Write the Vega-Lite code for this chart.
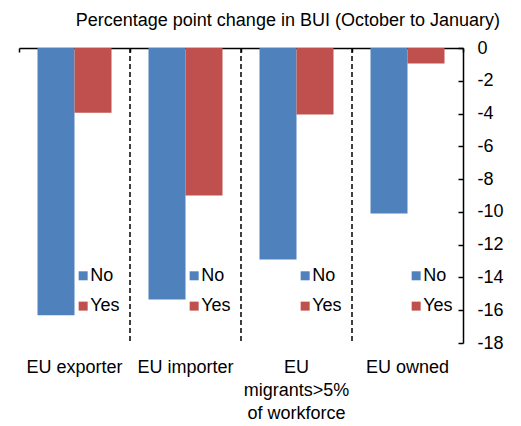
{
  "$schema": "https://vega.github.io/schema/vega-lite/v6.json",
  "autosize": {"type": "none"},
  "padding": {"left": 19, "top": 48, "right": 58, "bottom": 83},
  "width": 444,
  "height": 295,
  "background": "white",
  "config": {
    "font": "Liberation Sans",
    "view": {"stroke": null}
  },
  "title": {
    "text": "Percentage point change in BUI (October to January)",
    "fontSize": 18,
    "fontWeight": "normal",
    "color": "black",
    "anchor": "end",
    "frame": "group",
    "dx": 37,
    "offset": 9
  },
  "datasets": {
    "bars": [
      {"group": "EU exporter", "series": "No", "value": -16.3},
      {"group": "EU exporter", "series": "Yes", "value": -3.95},
      {"group": "EU importer", "series": "No", "value": -15.35},
      {"group": "EU importer", "series": "Yes", "value": -9.0},
      {"group": "EU migrants>5% of workforce", "series": "No", "value": -12.9},
      {"group": "EU migrants>5% of workforce", "series": "Yes", "value": -4.05},
      {"group": "EU owned", "series": "No", "value": -10.1},
      {"group": "EU owned", "series": "Yes", "value": -0.95}
    ],
    "separators": [
      {"group": "EU importer"},
      {"group": "EU migrants>5% of workforce"},
      {"group": "EU owned"}
    ]
  },
  "resolve": {"axis": {"x": "independent", "y": "independent"}},
  "layer": [
    {
      "data": {"name": "bars"},
      "mark": {"type": "bar"},
      "encoding": {
        "x": {
          "field": "group", "type": "nominal", "sort": null,
          "scale": {"paddingInner": 0, "paddingOuter": 0},
          "axis": {
            "orient": "bottom", "title": null, "domain": false, "ticks": false,
            "labelAngle": 0, "labelFontSize": 18, "labelColor": "black",
            "labelPadding": 15, "labelLineHeight": 23, "labelLimit": 200,
            "labelExpr": "datum.label == 'EU migrants>5% of workforce' ? ['EU', 'migrants>5%', 'of workforce'] : datum.label"
          }
        },
        "xOffset": {
          "field": "series", "type": "nominal",
          "scale": {"paddingInner": 0, "paddingOuter": 0.5}
        },
        "y": {
          "field": "value", "type": "quantitative",
          "scale": {"domain": [-18, 0], "nice": false, "zero": false},
          "axis": {
            "orient": "right", "title": null, "grid": false,
            "values": [0, -2, -4, -6, -8, -10, -12, -14, -16, -18],
            "labelOverlap": false,
            "labelExpr": "'' + datum.value",
            "labelFontSize": 18, "labelColor": "black",
            "domainColor": "black", "domainWidth": 1.5,
            "tickColor": "black", "tickSize": -5, "tickWidth": 1.5,
            "labelPadding": 19
          }
        },
        "color": {
          "field": "series", "type": "nominal",
          "scale": {"domain": ["No", "Yes"], "range": ["#4F81BD", "#C0504D"]},
          "legend": null
        }
      }
    },
    {
      "data": {"name": "separators"},
      "mark": {"type": "rule", "color": "black", "strokeWidth": 1.5, "strokeDash": [5, 3]},
      "encoding": {
        "x": {
          "field": "group", "type": "nominal", "bandPosition": 0,
          "axis": {
            "orient": "top", "title": null, "labels": false,
            "domain": true, "domainColor": "black", "domainWidth": 1.5,
            "ticks": true, "tickBand": "extent", "tickSize": -4,
            "tickColor": "black", "tickWidth": 1.5
          }
        },
        "y": {"datum": 0, "axis": null},
        "y2": {"datum": -18}
      }
    },
    {
      "data": {"name": "bars"},
      "transform": [{"filter": "datum.series == 'No'"}],
      "layer": [
        {
          "mark": {"type": "square", "size": 81, "opacity": 1},
          "encoding": {
            "x": {"field": "group", "type": "nominal", "bandPosition": 0.578, "axis": null},
            "y": {"datum": -13.9, "axis": null},
            "color": {"field": "series", "type": "nominal"}
          }
        },
        {
          "mark": {"type": "text", "align": "left", "baseline": "middle", "dx": 7, "fontSize": 18, "color": "black"},
          "encoding": {
            "x": {"field": "group", "type": "nominal", "bandPosition": 0.578, "axis": null},
            "y": {"datum": -13.9, "axis": null},
            "text": {"field": "series"}
          }
        }
      ]
    },
    {
      "data": {"name": "bars"},
      "transform": [{"filter": "datum.series == 'Yes'"}],
      "layer": [
        {
          "mark": {"type": "square", "size": 81, "opacity": 1},
          "encoding": {
            "x": {"field": "group", "type": "nominal", "bandPosition": 0.578, "axis": null},
            "y": {"datum": -15.75, "axis": null},
            "color": {"field": "series", "type": "nominal"}
          }
        },
        {
          "mark": {"type": "text", "align": "left", "baseline": "middle", "dx": 7, "fontSize": 18, "color": "black"},
          "encoding": {
            "x": {"field": "group", "type": "nominal", "bandPosition": 0.578, "axis": null},
            "y": {"datum": -15.75, "axis": null},
            "text": {"field": "series"}
          }
        }
      ]
    }
  ]
}
